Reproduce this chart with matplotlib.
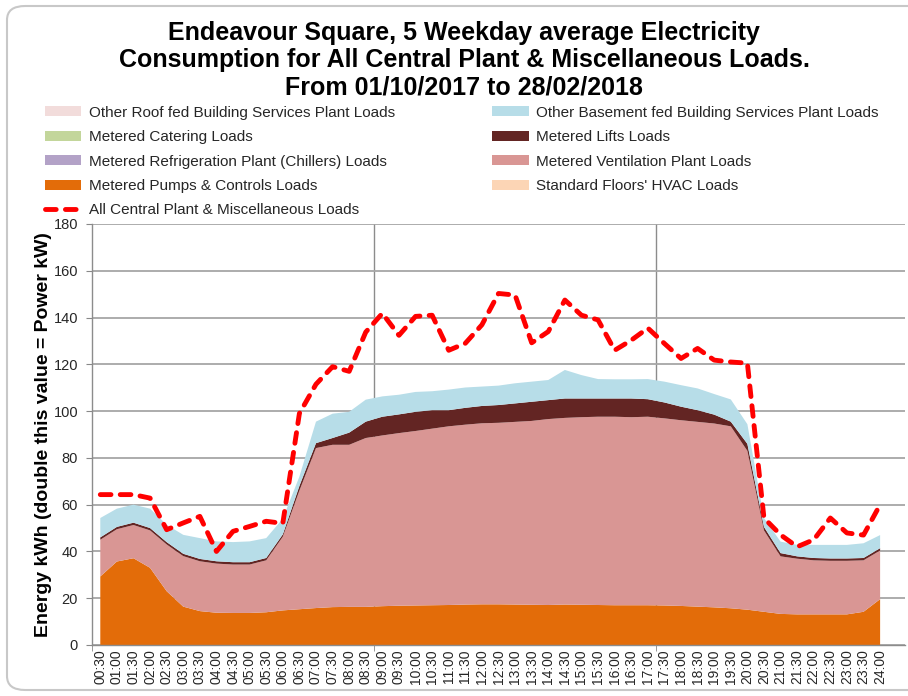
import matplotlib.pyplot as plt
import numpy as np
from matplotlib.patches import FancyBboxPatch

plt.rcParams['font.family'] = ['Liberation Sans', 'DejaVu Sans']

# half-hour periods, 00:30 ... 24:00
times = ["00:30", "01:00", "01:30", "02:00", "02:30", "03:00", "03:30", "04:00",
         "04:30", "05:00", "05:30", "06:00", "06:30", "07:00", "07:30", "08:00",
         "08:30", "09:00", "09:30", "10:00", "10:30", "11:00", "11:30", "12:00",
         "12:30", "13:00", "13:30", "14:00", "14:30", "15:00", "15:30", "16:00",
         "16:30", "17:00", "17:30", "18:00", "18:30", "19:00", "19:30", "20:00",
         "20:30", "21:00", "21:30", "22:00", "22:30", "23:00", "23:30", "24:00"]

# kWh per half hour
pumps = [29.3, 35.7, 37.1, 33.0, 23.0, 16.4, 14.5, 13.8, 13.7, 13.7, 14.0, 14.8,
         15.3, 15.8, 16.2, 16.3, 16.3, 16.6, 16.8, 16.9, 17.0, 17.1, 17.3, 17.4,
         17.4, 17.3, 17.2, 17.1, 17.3, 17.2, 17.1, 17.0, 17.0, 17.0, 16.9, 16.7,
         16.4, 16.1, 15.7, 15.1, 14.2, 13.3, 13.1, 13.1, 13.1, 13.1, 14.2, 19.6]
ventilation = [15.7, 13.8, 14.2, 16.0, 20.0, 21.6, 21.3, 21.0, 20.7, 20.7, 22.2, 31.5,
               50.7, 68.4, 69.4, 69.3, 72.2, 73.0, 73.8, 74.6, 75.5, 76.4, 76.9, 77.4,
               77.6, 78.1, 78.6, 79.5, 79.8, 80.2, 80.5, 80.6, 80.4, 80.6, 80.0, 79.4,
               79.0, 78.6, 77.8, 67.9, 34.8, 24.6, 23.8, 23.1, 22.9, 22.9, 22.0, 20.8]
lifts = [1.0, 1.0, 1.0, 1.0, 1.0, 1.0, 1.0, 1.0, 1.0, 1.0, 1.0, 1.0,
         2.0, 2.1, 2.9, 5.2, 7.0, 8.0, 8.0, 8.2, 7.9, 6.9, 7.2, 7.4,
         7.6, 7.9, 8.2, 8.1, 8.3, 8.0, 7.8, 7.8, 8.0, 7.5, 6.8, 5.8,
         5.0, 3.8, 2.0, 3.0, 1.5, 1.4, 1.0, 1.0, 1.0, 1.0, 1.0, 1.0]
basement = [8.3, 7.8, 7.7, 8.3, 7.4, 8.1, 8.9, 8.5, 8.6, 8.9, 8.5, 6.7,
            4.0, 9.2, 10.4, 8.9, 9.4, 8.7, 8.4, 8.5, 8.1, 8.8, 8.7, 8.3,
            8.3, 8.6, 8.6, 8.6, 12.2, 10.0, 8.3, 8.2, 8.2, 8.6, 8.9, 9.2,
            9.3, 8.8, 9.5, 8.4, 3.8, 4.9, 4.9, 5.6, 5.8, 5.8, 6.3, 5.6]
roof = [0.0] * 48
catering = [0.0] * 48
chillers = [0.0] * 48
hvac = [0.0] * 48

total = [64.3, 64.3, 64.3, 62.8, 49.3, 52.2, 55.0, 40.0, 48.6, 50.7, 52.9, 52.0,
         99.0, 111.5, 119.0, 117.0, 133.8, 141.8, 132.4, 140.5, 141.0, 126.0, 129.0, 136.9,
         150.3, 149.6, 129.2, 134.0, 147.5, 141.0, 139.0, 126.0, 130.3, 135.5, 128.9, 122.5,
         126.8, 121.8, 121.0, 120.5, 54.3, 47.1, 42.0, 45.0, 54.3, 47.9, 47.0, 60.0]

x = np.arange(len(times))

fig = plt.figure(figsize=(9.08, 6.96), dpi=100)
ax = fig.add_axes([92 / 908, 51 / 696, 813 / 908, 421 / 696])

# stacking order is the reverse of the legend, like Excel
polys = ax.stackplot(
    x, hvac, pumps, ventilation, chillers, lifts, catering, basement, roof,
    colors=["#FCD5B5", "#E36C09", "#D99694", "#B3A2C7", "#632523", "#C3D69B", "#B7DDE8", "#F2DCDB"],
    labels=["Standard Floors' HVAC Loads", "Metered Pumps & Controls Loads",
            "Metered Ventilation Plant Loads", "Metered Refrigeration Plant (Chillers) Loads",
            "Metered Lifts Loads", "Metered Catering Loads",
            "Other Basement fed Building Services Plant Loads",
            "Other Roof fed Building Services Plant Loads"],
    linewidth=0, zorder=2)
line, = ax.plot(x, total, color="#FF0000", lw=3.5, dashes=(2.2, 1.9),
                dash_capstyle="round", label="All Central Plant & Miscellaneous Loads", zorder=3)

ax.set_xlim(-0.5, 48.5)
ax.set_ylim(0, 180)
ax.set_yticks(range(0, 181, 20))
ax.set_xticks(x)
ax.set_xticklabels(times, rotation=90, fontsize=10, color="#262626")
ax.tick_params(axis="x", length=0, pad=3)
ax.set_xticks(np.arange(-0.5, 48, 8.5), minor=True)
ax.tick_params(axis="x", which="minor", length=4, color="#888888", direction="out")
ax.tick_params(axis="y", length=4, color="#888888", pad=6, labelsize=10.5, labelcolor="#262626")

ax.yaxis.grid(True, color="#A6A6A6", lw=1.3)
ax.set_axisbelow(True)
for xv in [16.5, 33.5]:
    ax.axvline(xv, color="#8C8C8C", lw=1, zorder=0.5)
for s in ["top", "right"]:
    ax.spines[s].set_visible(False)
for s in ["left", "bottom"]:
    ax.spines[s].set_color("#8C8C8C")
    ax.spines[s].set_linewidth(1)

ax.set_ylabel("Energy kWh (double this value = Power kW)", fontsize=14, fontweight="bold")
ax.yaxis.set_label_coords(-(92 - 52) / 813, 0.5)

fig.text(464 / 908, 1 - 21 / 696,
         "Endeavour Square, 5 Weekday average Electricity\n"
         "Consumption for All Central Plant & Miscellaneous Loads.\n"
         "From 01/10/2017 to 28/02/2018",
         ha="center", va="top", fontsize=18, fontweight="bold", linespacing=1.17)

# legend laid out in two columns, read row by row
h = {p.get_label(): p for p in polys}
order = ["Other Roof fed Building Services Plant Loads", "Metered Catering Loads",
         "Metered Refrigeration Plant (Chillers) Loads", "Metered Pumps & Controls Loads",
         "Other Basement fed Building Services Plant Loads", "Metered Lifts Loads",
         "Metered Ventilation Plant Loads", "Standard Floors' HVAC Loads"]
handles = [h[k] for k in order[:4]] + [line] + [h[k] for k in order[4:]]
labels = order[:4] + [line.get_label()] + order[4:]
leg = fig.legend(handles, labels, ncol=2, loc="upper left",
                 bbox_to_anchor=(37 / 908, 1 - 98 / 696), frameon=False,
                 fontsize=11, handlelength=2.4, handleheight=0.65, handletextpad=0.5,
                 columnspacing=6.35, labelspacing=0.685, borderpad=0)
for t in leg.get_texts():
    t.set_color("#262626")

fig.patches.append(FancyBboxPatch((7 / 908, 6 / 696), 920 / 908, 684 / 696,
                                  boxstyle="round,pad=0,rounding_size=0.02",
                                  transform=fig.transFigure, fill=False,
                                  edgecolor="#C8C8C8", lw=1.5))

fig.savefig("out.png", dpi=100)
